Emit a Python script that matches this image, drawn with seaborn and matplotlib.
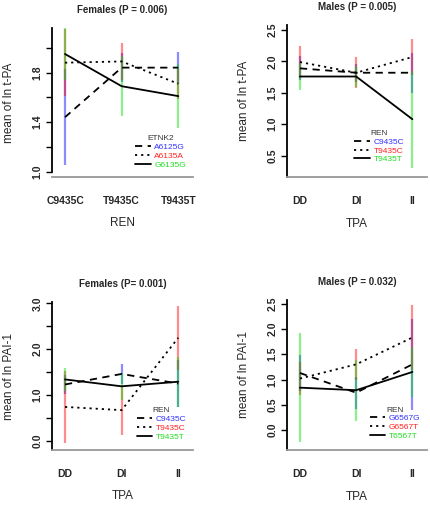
import matplotlib
matplotlib.use('Agg')
import matplotlib.pyplot as plt
from matplotlib.lines import Line2D
import seaborn as sns
import pandas as pd
import numpy as np

# ---- data ----
ren_levels = ['C9435C', 'T9435C', 'T9435T']
tpa_levels = ['DD', 'DI', 'II']

# panel 1: Females, t-PA by REN, grouped by ETNK2
etnk2_groups = ['A6125G', 'A6135A', 'G6135G']
f_tpa_mean = [[1.44, 1.84, 1.84], [1.88, 1.89, 1.71], [1.95, 1.69, 1.61]]
f_tpa_err = [[0.39, 0.12, 0.13], [0.27, 0.15, 0.12], [0.21, 0.24, 0.26]]

# panel 2: Males, t-PA by TPA, grouped by REN
ren_groups = ['C9435C', 'T9435C', 'T9435T']
m_tpa_mean = [[1.89, 1.82, 1.82], [1.99, 1.82, 2.07], [1.76, 1.76, 1.08]]
m_tpa_err = [[0.19, 0.14, 0.32], [0.25, 0.25, 0.29], [0.22, 0.17, 0.77]]

# panel 3: Females, PAI-1 by TPA, grouped by REN
f_pai_mean = [[1.23, 1.46, 1.25], [0.74, 0.67, 2.25], [1.34, 1.19, 1.29]]
f_pai_err = [[0.20, 0.21, 0.52], [0.79, 0.55, 0.70], [0.25, 0.30, 0.55]]

# panel 4: Males, PAI-1 by TPA, grouped by REN (G6567T)
ren2_groups = ['G6567G', 'G6567T', 'T6567T']
m_pai_mean = [[1.13, 0.74, 1.30], [1.02, 1.30, 1.83], [0.84, 0.79, 1.15]]
m_pai_err = [[0.35, 0.32, 0.90], [0.33, 0.30, 0.65], [1.08, 0.60, 0.49]]

panels = [
    dict(title='Females (P = 0.006)', xlab='REN', ylab='mean of ln t-PA', levels=ren_levels,
         groups=etnk2_groups, leg='ETNK2', mean=f_tpa_mean, err=f_tpa_err,
         ylim=(0.957, 2.16), ticks=[1.0, 1.2, 1.4, 1.6, 1.8, 2.0], labels=[1.0, 1.4, 1.8], fmt='%.1f',
         rect=[52, 28, 193, 177], leg_xy=(0.59, 0.28), spine_bottom=1.0),
    dict(title='Males (P = 0.005)', xlab='TPA', ylab='mean of ln t-PA', levels=tpa_levels,
         groups=ren_groups, leg='REN', mean=m_tpa_mean, err=m_tpa_err,
         ylim=(0.16, 2.58), ticks=[0.5, 1.0, 1.5, 2.0, 2.5], labels=[0.5, 1.0, 1.5, 2.0, 2.5], fmt='%.1f',
         rect=[287, 25, 427, 177], leg_xy=(0.48, 0.31), spine_bottom=None),
    dict(title='Females (P= 0.001)', xlab='TPA', ylab='mean of ln PAI-1', levels=tpa_levels,
         groups=ren_groups, leg='REN', mean=f_pai_mean, err=f_pai_err,
         ylim=(-0.2, 3.03), ticks=[0, 0.5, 1.0, 1.5, 2.0, 2.5, 3.0], labels=[0.0, 1.0, 2.0, 3.0], fmt='%.1f',
         rect=[52, 302, 193, 450], leg_xy=(0.60, 0.29), spine_bottom=None),
    dict(title='Males (P = 0.032)', xlab='TPA', ylab='mean of ln PAI-1', levels=tpa_levels,
         groups=ren2_groups, leg='REN', mean=m_pai_mean, err=m_pai_err,
         ylim=(-0.39, 2.57), ticks=[0, 0.5, 1.0, 1.5, 2.0, 2.5], labels=[0.0, 0.5, 1.0, 1.5, 2.0, 2.5], fmt='%.1f',
         rect=[287, 300, 427, 450], leg_xy=(0.59, 0.29), spine_bottom=None),
]

grp_colors = ['#0000ff', '#ff0000', '#00dd00']
txt_colors = ['#3333ff', '#ff2222', '#22dd22']
dash_specs = [(4, 3), (1.2, 2.2), '']
dash_ls = [(0, (4, 3)), (0, (1.2, 2.2)), '-']

sns.set_style('white')
plt.rcParams['font.family'] = ['Liberation Sans', 'DejaVu Sans']

W, H = 430, 505
fig = plt.figure(figsize=(W / 100, H / 100), dpi=100)

for p in panels:
    l, t, r, b = p['rect']
    ax = fig.add_axes([l / W, 1 - b / H, (r - l) / W, (b - t) / H])

    rows = []
    for gi, g in enumerate(p['groups']):
        for li, lev in enumerate(p['levels']):
            rows.append(dict(grp=g, pos=li + 1, level=lev,
                             mean=p['mean'][gi][li], err=p['err'][gi][li]))
    df = pd.DataFrame(rows)

    # error bars, semi transparent so overlaps mix
    for gi, g in enumerate(p['groups']):
        d = df[df.grp == g]
        ax.vlines(d['pos'], d['mean'] - d['err'], d['mean'] + d['err'],
                  color=grp_colors[gi], alpha=0.45, lw=1.6, zorder=1)

    sns.lineplot(data=df, x='pos', y='mean', style='grp', style_order=p['groups'],
                 dashes=dict(zip(p['groups'], dash_specs)), color='black',
                 lw=1.3, estimator=None, legend=False, ax=ax, zorder=3)

    ax.set_xlim(0.77, 3.26)
    ax.set_ylim(*p['ylim'])
    ax.set_xticks([1, 2, 3])
    ax.set_xticklabels(p['levels'], fontsize=7.5, fontweight='bold')
    ax.tick_params(axis='x', length=0, pad=14)
    ax.set_yticks(p['ticks'])
    ax.set_yticklabels([(p['fmt'] % v) if any(abs(v - w) < 1e-9 for w in p['labels']) else ''
                        for v in p['ticks']],
                       rotation=90, va='center', fontsize=7.5, fontweight='bold')
    ax.tick_params(axis='y', length=4, width=1, color='black', direction='out', pad=3, left=True)

    for s in ['top', 'right']:
        ax.spines[s].set_visible(False)
    ax.spines['left'].set_color('black')
    ax.spines['left'].set_linewidth(1.3)
    ax.spines['bottom'].set_color('#999999')
    ax.spines['bottom'].set_linewidth(1.3)
    if p['spine_bottom'] is not None:
        ax.spines['left'].set_bounds(p['spine_bottom'], p['ylim'][1])

    ax.set_title(p['title'], fontsize=7, fontweight='bold', pad=11)
    ax.set_xlabel(p['xlab'], fontsize=8.5)
    ax.xaxis.set_label_coords(0.5, -0.27)
    ax.set_ylabel(p['ylab'], fontsize=8.5)
    ax.yaxis.set_label_coords(-0.265, 0.5)

    handles = [Line2D([], [], color='black', lw=1.3, linestyle=dash_ls[i]) for i in range(3)]
    leg = ax.legend(handles, p['groups'], title=p['leg'], loc='upper left',
                    bbox_to_anchor=p['leg_xy'], frameon=False, fontsize=6,
                    title_fontsize=6, handlelength=1.9, handletextpad=0.4,
                    labelspacing=0.12, borderpad=0, borderaxespad=0,
                    labelcolor=txt_colors)
    leg.get_title().set_color('#333333')

fig.savefig('out.png', dpi=100)
plt.close(fig)
